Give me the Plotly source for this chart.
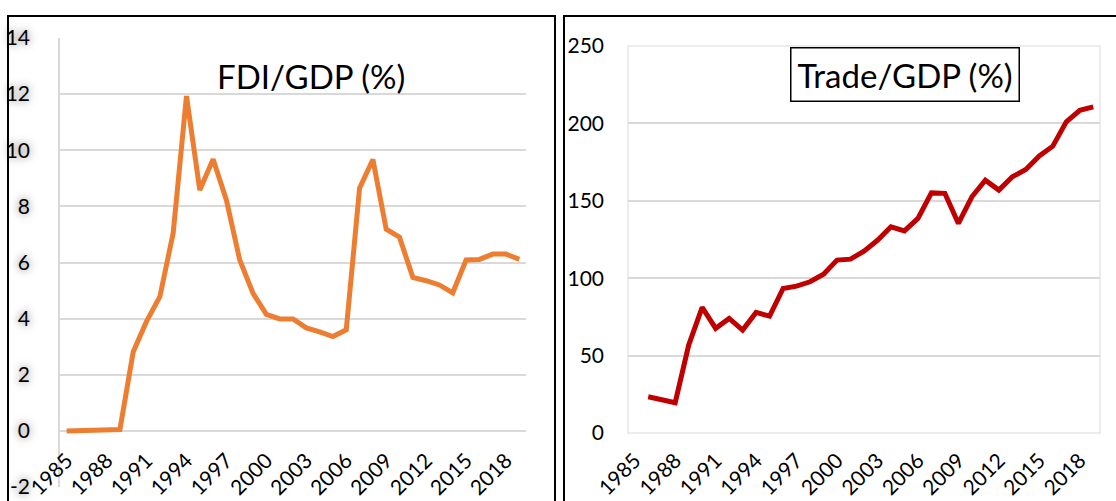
import plotly.graph_objects as go

# values
years = [1985, 1986, 1987, 1988, 1989, 1990, 1991, 1992, 1993, 1994,
         1995, 1996, 1997, 1998, 1999, 2000, 2001, 2002, 2003, 2004,
         2005, 2006, 2007, 2008, 2009, 2010, 2011, 2012, 2013, 2014,
         2015, 2016, 2017, 2018, 2019]

fdi_gdp = [0.0, 0.01, 0.02, 0.03, 0.05, 2.82, 3.9, 4.78, 7.05, 11.93,
           8.58, 9.68, 8.22, 6.09, 4.9, 4.15, 3.99, 3.99, 3.67, 3.53,
           3.36, 3.6, 8.65, 9.67, 7.19, 6.9, 5.47, 5.35, 5.2, 4.92,
           6.09, 6.11, 6.3, 6.3, 6.11]

trade_gdp = [None, 23.4, 21.3, 19.6, 56.8, 81.1, 67.6, 74.0, 66.5, 77.9,
             75.5, 93.4, 94.9, 97.7, 102.6, 111.7, 112.3, 117.5, 124.5, 133.2,
             130.6, 138.6, 155.1, 154.8, 135.4, 152.6, 163.3, 156.9, 165.5, 170.2,
             179.0, 185.3, 201.0, 208.5, 210.7]

tick_years = [1985, 1988, 1991, 1994, 1997, 2000, 2003, 2006, 2009, 2012, 2015, 2018]
fdi_ticks = [-2, 0, 2, 4, 6, 8, 10, 12, 14]
trade_ticks = [0, 50, 100, 150, 200, 250]

W, H = 1116, 501
FONT = "Lato"
GRID = "#d9d9d9"


def px_x(p):
    return p / W


def px_y(p):
    return 1 - p / H


fig = go.Figure()

fig.add_trace(go.Scatter(
    x=years, y=fdi_gdp, mode="lines",
    line=dict(color="#ED7D31", width=5),
    xaxis="x", yaxis="y", showlegend=False,
))
fig.add_trace(go.Scatter(
    x=years, y=trade_gdp, mode="lines",
    line=dict(color="#C00000", width=5),
    xaxis="x2", yaxis="y2", showlegend=False,
))

tick_font = dict(family=FONT, size=21, color="black")

fig.update_layout(
    width=W, height=H, autosize=False,
    margin=dict(l=0, r=0, t=0, b=0),
    paper_bgcolor="white", plot_bgcolor="white",
    # left chart: category axis crosses at zero, labels drawn there
    xaxis=dict(
        domain=[px_x(60), px_x(526)], range=[1984.5, 2019.5],
        anchor="free", position=px_y(431), automargin=False,
        tickvals=tick_years, ticktext=[str(t) for t in tick_years],
        tickangle=-45, tickfont=tick_font,
        ticks="outside", ticklen=8, tickcolor="rgba(0,0,0,0)",
        showgrid=False, showline=False, zeroline=False,
    ),
    yaxis=dict(
        domain=[px_y(487), px_y(38)], range=[-2, 14], automargin=False,
        tickvals=fdi_ticks, ticktext=[str(t) for t in fdi_ticks],
        tickfont=dict(family=FONT, size=21, color="black",
                      shadow="0px 0px 8px rgba(0,0,0,0.6)"),
        ticklabelstandoff=24,
        showgrid=True, gridcolor=GRID, gridwidth=1.5,
        showline=True, linecolor=GRID, linewidth=1.5,
        zeroline=False, anchor="x",
    ),
    xaxis2=dict(
        domain=[px_x(628), px_x(1100)], range=[1984.5, 2019.5],
        anchor="y2", automargin=False,
        tickvals=tick_years, ticktext=[str(t) for t in tick_years],
        tickangle=-45, tickfont=tick_font,
        ticks="outside", ticklen=6, tickcolor="rgba(0,0,0,0)",
        showgrid=False, showline=False, zeroline=False,
    ),
    yaxis2=dict(
        domain=[px_y(433), px_y(46)], range=[0, 250], automargin=False,
        tickvals=trade_ticks, ticktext=[str(t) for t in trade_ticks],
        tickfont=tick_font, ticklabelstandoff=23,
        showgrid=True, gridcolor=GRID, gridwidth=1.5,
        showline=False, zeroline=False, anchor="x2",
    ),
    shapes=[
        # panel borders
        dict(type="rect", xref="paper", yref="paper",
             x0=px_x(8), x1=px_x(555), y0=-0.1, y1=px_y(16),
             line=dict(color="black", width=2)),
        dict(type="rect", xref="paper", yref="paper",
             x0=px_x(564), x1=1.1, y0=-0.1, y1=px_y(16),
             line=dict(color="black", width=2)),
        # plot area box of the right chart
        dict(type="rect", xref="paper", yref="paper", layer="below",
             x0=px_x(628), x1=px_x(1100), y0=px_y(433), y1=px_y(46),
             line=dict(color="#e6e6e6", width=1.5)),
    ],
    annotations=[
        dict(text="FDI/GDP (%)", xref="paper", yref="paper",
             x=px_x(311), y=px_y(76), xanchor="center", yanchor="middle",
             showarrow=False, font=dict(family=FONT, size=33, color="black")),
        dict(text="Trade/GDP (%)", xref="paper", yref="paper",
             x=px_x(905), y=px_y(74), xanchor="center", yanchor="middle",
             showarrow=False, font=dict(family=FONT, size=33, color="black"),
             bgcolor="white", bordercolor="black", borderwidth=1.5,
             borderpad=6),
    ],
)

# the page's default body margin would shift the figure by 8px
fig.write_html("out.html", config={"displayModeBar": False},
               post_script="document.body.style.margin='0px';")
